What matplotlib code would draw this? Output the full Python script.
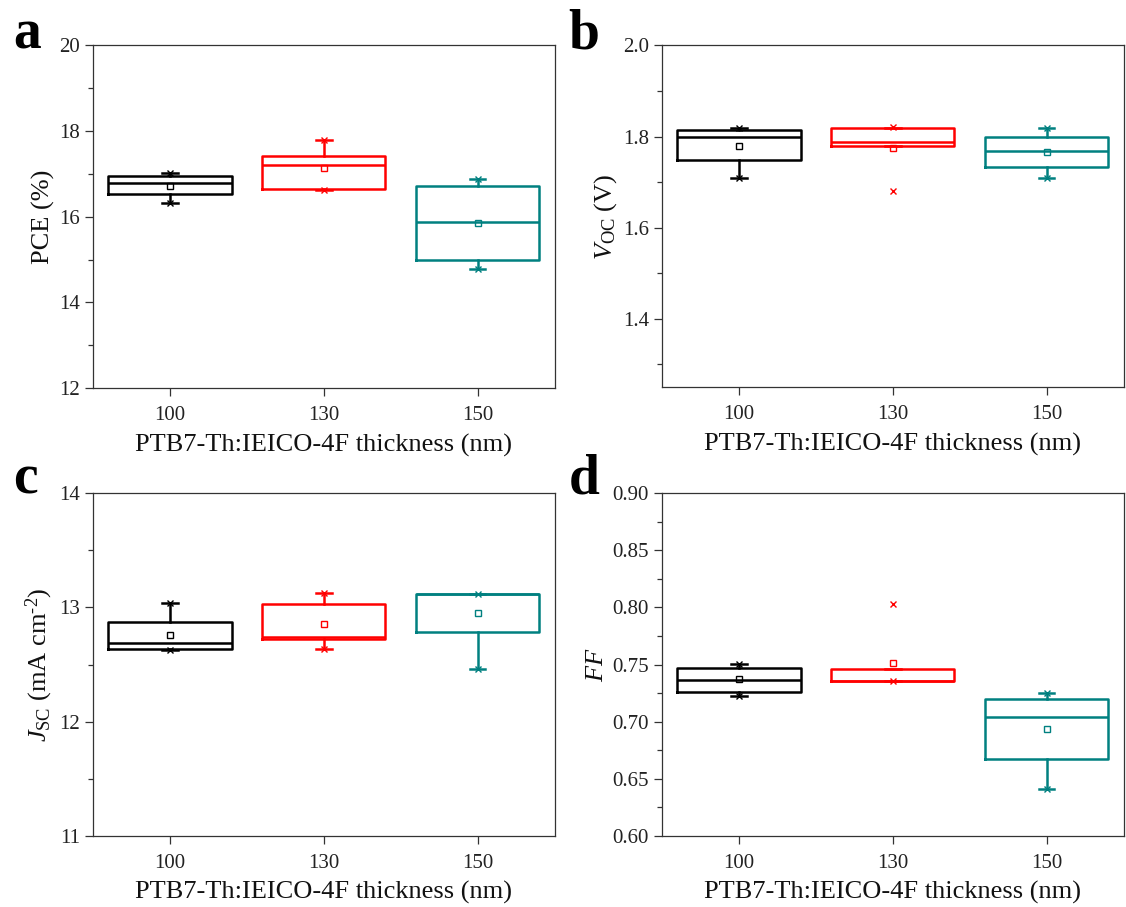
import matplotlib
matplotlib.use("Agg")
import matplotlib.pyplot as plt
from matplotlib.ticker import MultipleLocator, FuncFormatter

plt.rcParams['font.family'] = ['Liberation Serif', 'DejaVu Serif']
plt.rcParams['mathtext.fontset'] = 'custom'
plt.rcParams['mathtext.rm'] = 'Liberation Serif'
plt.rcParams['mathtext.it'] = 'Liberation Serif:italic'

categories = ['100', '130', '150']
colors = ['#000000', '#ff0000', '#008080']

# PCE (%)
pce_whislo = [16.32, 16.63, 14.79]
pce_q1 = [16.52, 16.65, 15.00]
pce_med = [16.79, 17.21, 15.88]
pce_q3 = [16.94, 17.42, 16.72]
pce_whishi = [17.03, 17.80, 16.88]
pce_mean = [16.72, 17.14, 15.86]
pce_x = [[16.32, 17.03], [16.63, 17.80], [14.79, 16.88]]

# Voc (V)
voc_whislo = [1.709, 1.779, 1.709]
voc_q1 = [1.748, 1.779, 1.733]
voc_med = [1.799, 1.788, 1.768]
voc_q3 = [1.814, 1.819, 1.799]
voc_whishi = [1.819, 1.819, 1.818]
voc_mean = [1.780, 1.775, 1.765]
voc_x = [[1.709, 1.819], [1.68, 1.82], [1.709, 1.818]]

# Jsc (mA cm-2)
jsc_whislo = [12.63, 12.635, 12.46]
jsc_q1 = [12.64, 12.72, 12.784]
jsc_med = [12.69, 12.74, 13.115]
jsc_q3 = [12.869, 13.026, 13.12]
jsc_whishi = [13.035, 13.128, 13.12]
jsc_mean = [12.76, 12.854, 12.95]
jsc_x = [[12.63, 13.035], [12.635, 13.128], [12.46, 13.12]]

# FF
ff_whislo = [0.7224, 0.7355, 0.6413]
ff_q1 = [0.7256, 0.7355, 0.6676]
ff_med = [0.7364, 0.7355, 0.7043]
ff_q3 = [0.7469, 0.746, 0.7198]
ff_whishi = [0.7504, 0.746, 0.725]
ff_mean = [0.737, 0.751, 0.6933]
ff_x = [[0.7224, 0.7504], [0.7355, 0.8032], [0.6413, 0.725]]

panels = [
    dict(letter='a', rect=[0.0826, 0.572, 0.410, 0.378], ylabel='PCE (%)',
         ylim=(12, 20), major=2, minor=1, fmt='{:.0f}',
         data=(pce_whislo, pce_q1, pce_med, pce_q3, pce_whishi, pce_mean, pce_x)),
    dict(letter='b', rect=[0.588, 0.573, 0.410, 0.377], ylabel=r'$V_{\mathrm{OC}}$ (V)',
         ylim=(1.25, 2.0), major=0.2, minor=0.1, fmt='{:.1f}',
         data=(voc_whislo, voc_q1, voc_med, voc_q3, voc_whishi, voc_mean, voc_x)),
    dict(letter='c', rect=[0.0826, 0.0783, 0.410, 0.378],
         ylabel='$J_{\\mathrm{SC}}$ (mA cm$^{\u2010\\mathrm{2}}$)',
         ylim=(11, 14), major=1, minor=0.5, fmt='{:.0f}',
         data=(jsc_whislo, jsc_q1, jsc_med, jsc_q3, jsc_whishi, jsc_mean, jsc_x)),
    dict(letter='d', rect=[0.588, 0.0783, 0.410, 0.378], ylabel=r'$FF$',
         ylim=(0.60, 0.90), major=0.05, minor=0.025, fmt='{:.2f}',
         data=(ff_whislo, ff_q1, ff_med, ff_q3, ff_whishi, ff_mean, ff_x)),
]

fig = plt.figure(figsize=(11.26, 9.07), dpi=100)

letter_pos = {'a': (0.0115, 0.947), 'b': (0.505, 0.947),
              'c': (0.0115, 0.456), 'd': (0.505, 0.456)}

for p in panels:
    ax = fig.add_axes(p['rect'])
    wl, q1, med, q3, wh, mean, xs = p['data']
    for i in range(3):
        st = [dict(med=med[i], q1=q1[i], q3=q3[i], whislo=wl[i], whishi=wh[i],
                   mean=mean[i], fliers=xs[i])]
        c = colors[i]
        ax.bxp(st, positions=[i + 1], widths=0.8, capwidths=0.1, showmeans=True,
               boxprops=dict(color=c, linewidth=1.8),
               medianprops=dict(color=c, linewidth=1.8),
               whiskerprops=dict(color=c, linewidth=1.8),
               capprops=dict(color=c, linewidth=1.8),
               meanprops=dict(marker='s', markerfacecolor='none', markeredgecolor=c,
                              markersize=4, markeredgewidth=1.0),
               flierprops=dict(marker='x', markeredgecolor=c, markersize=5,
                               markeredgewidth=1.0, linestyle='none'),
               manage_ticks=False)
    ax.set_xlim(0.5, 3.5)
    ax.set_ylim(*p['ylim'])
    ax.set_xticks([1, 2, 3])
    ax.set_xticklabels(categories)
    ax.yaxis.set_major_locator(MultipleLocator(p['major']))
    ax.yaxis.set_minor_locator(MultipleLocator(p['minor']))
    ax.yaxis.set_major_formatter(FuncFormatter(lambda v, pos, f=p['fmt']: f.format(v)))
    ax.tick_params(axis='both', which='major', direction='out', length=6, width=0.9,
                   labelsize=15, colors='#333333', labelcolor='#222222')
    ax.tick_params(axis='y', which='minor', direction='out', length=3.5, width=0.9,
                   colors='#333333')
    ax.tick_params(axis='x', pad=7)
    for s in ax.spines.values():
        s.set_linewidth(0.9)
        s.set_color('#333333')
    ax.set_xlabel('PTB7-Th:IEICO-4F thickness (nm)', fontsize=19, color='#111111', labelpad=6)
    ax.set_ylabel(p['ylabel'], fontsize=19, color='#111111', labelpad=3)
    lx, ly = letter_pos[p['letter']]
    fig.text(lx, ly, p['letter'], fontsize=40, fontweight='bold', ha='left', va='baseline')

fig.savefig('out.png', dpi=100)
